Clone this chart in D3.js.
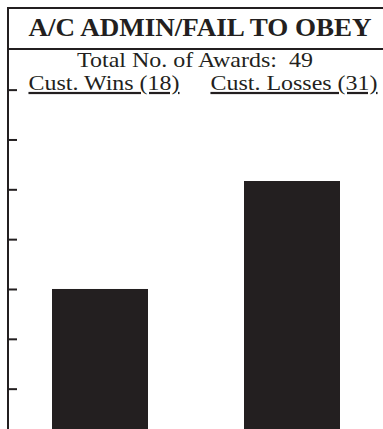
<!DOCTYPE html>
<html>
<head>
<meta charset="utf-8">
<script src="https://cdn.jsdelivr.net/npm/d3@7"></script>
<style>
  body { margin: 0; background: #fff; }
  svg { display: block; }
  text { font-family: "Liberation Serif", "Times New Roman", serif; fill: #231f20; }
</style>
</head>
<body>
<svg id="chart" width="383" height="429"></svg>
<script>
const title = "A/C ADMIN/FAIL TO OBEY";
const totalAwards = 49;
const categories = ["Cust. Wins", "Cust. Losses"];
const values = [18, 31];
const tickValues = [6, 12, 18, 24, 30, 36, 42];

const width = 383, height = 429;
const ink = "#231f20";
const svg = d3.select("#chart");

// y: 0 sits just below the bottom of the picture
const y = d3.scaleLinear().domain([0, 31]).range([438.5, 181]);
const x = d3.scaleBand()
  .domain(categories)
  .range([4, 388])
  .paddingInner(0.5)
  .paddingOuter(0.25);

// frame lines
svg.append("line")
  .attr("x1", 7).attr("x2", width).attr("y1", 8).attr("y2", 8)
  .attr("stroke", ink).attr("stroke-width", 2);
svg.append("line")
  .attr("x1", 8).attr("x2", width).attr("y1", 49).attr("y2", 49)
  .attr("stroke", ink).attr("stroke-width", 2);

// bars
svg.append("g")
  .selectAll("rect")
  .data(categories)
  .join("rect")
  .attr("x", d => x(d))
  .attr("width", x.bandwidth())
  .attr("y", (d, i) => y(values[i]))
  .attr("height", (d, i) => y(0) - y(values[i]))
  .attr("fill", ink);

// left axis
const yAxis = svg.append("g")
  .attr("transform", "translate(8,0)")
  .call(d3.axisRight(y).tickValues(tickValues).tickSize(9).tickFormat(""));
yAxis.select(".domain").remove();
yAxis.selectAll(".tick line").attr("stroke", ink).attr("stroke-width", 2);
svg.append("line")
  .attr("x1", 8).attr("x2", 8).attr("y1", 7).attr("y2", height)
  .attr("stroke", ink).attr("stroke-width", 2);

// the source text is a little stretched sideways
svg.append("text")
  .attr("transform", "translate(200,36) scale(1.04,1)")
  .attr("text-anchor", "middle")
  .attr("font-size", 26).attr("font-weight", "bold")
  .text(title);

svg.append("text")
  .attr("transform", "translate(195,67) scale(1.09,1)")
  .attr("text-anchor", "middle")
  .attr("font-size", 22)
  .attr("xml:space", "preserve")
  .text("Total No. of Awards:  " + totalAwards);

// category labels, underlined
svg.append("g")
  .selectAll("text")
  .data(categories)
  .join("text")
  .attr("transform", (d, i) =>
    `translate(${x(d) + x.bandwidth() / 2 + (i === 0 ? 4 : 2)},90) scale(1.09,1)`)
  .attr("text-anchor", "middle")
  .attr("font-size", 22)
  .attr("text-decoration", "underline")
  .text((d, i) => `${d} (${values[i]})`);
</script>
</body>
</html>
